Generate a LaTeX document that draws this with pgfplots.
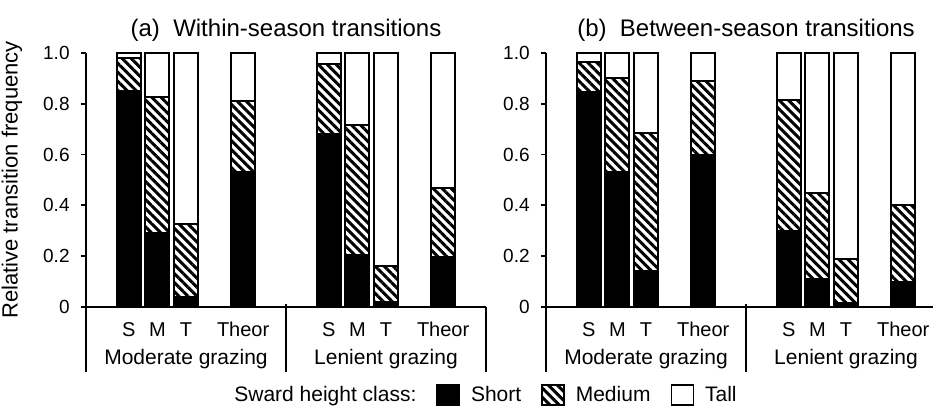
\documentclass[border=0pt]{standalone}
\usepackage{pgfplots}
\pgfplotsset{compat=1.18}
\usepackage{pgfplotstable}
\usepackage{fontspec}
\setmainfont{Liberation Sans}
\usetikzlibrary{patterns.meta}

\tikzset{hatch/.style={pattern={Lines[angle=-45,distance=3.2pt,line width=1.5pt]}, pattern color=black}}

\pgfplotstableread{
x short medium tall
1.5 0.85 0.13 0.02
2.5 0.29 0.535 0.175
3.5 0.04 0.285 0.675
5.5 0.53 0.28 0.19
8.5 0.68 0.275 0.045
9.5 0.205 0.51 0.285
10.5 0.02 0.14 0.84
12.5 0.195 0.275 0.53
}\dataA

\pgfplotstableread{
x short medium tall
1.5 0.845 0.12 0.035
2.5 0.53 0.37 0.10
3.5 0.14 0.545 0.315
5.5 0.60 0.29 0.11
8.5 0.30 0.515 0.185
9.5 0.11 0.34 0.55
10.5 0.015 0.175 0.81
12.5 0.10 0.30 0.60
}\dataB

\newcommand{\fs}{\fontsize{10.5}{12.6}\selectfont}

\pgfplotsset{
  panel/.style={
    scale only axis, height=127pt,
    xmin=0, ymin=0, ymax=1,
    axis x line=bottom, axis y line=left,
    axis line style={-, line width=0.9pt},
    ytick={0,0.2,0.4,0.6,0.8,1}, yticklabels={0,0.2,0.4,0.6,0.8,1.0},
    xtick={1.5,2.5,3.5,5.5,8.5,9.5,10.5,12.5},
    xticklabels={S,M,T,Theor,S,M,T,Theor},
    x tick style={draw=none},
    y tick style={line width=0.9pt, black},
    tick align=outside, major tick length=2.5pt,
    yticklabel style={anchor=east, inner sep=0pt, xshift=-5.5pt, font=\fontsize{9.5}{11}\selectfont},
    xticklabel style={anchor=base, inner sep=0pt, yshift=-12.5pt, font=\fontsize{10}{12}\selectfont},
    ybar stacked, bar width=12pt,
    clip=false,
    font=\fs,
  }
}

\begin{document}
\begin{tikzpicture}
\begin{axis}[panel, width=200pt, xmax=14, at={(0pt,0pt)}, anchor=south west,
  ylabel={Relative transition frequency},
  ylabel style={at={(axis description cs:-0.185,0.5)}, anchor=center, font=\fontsize{11}{13}\selectfont},
  legend columns=-1,
  legend style={draw=none, fill=none, at={(0.985,-0.3465)}, anchor=center, font=\fs,
    nodes={inner xsep=0pt},
    /tikz/every odd column/.append style={column sep=5.5pt},
    /tikz/every even column/.append style={column sep=10pt}},
]
\addplot[fill=black, draw=black, line width=1pt, forget plot] table[x=x,y=short]{\dataA};
\addplot[hatch, draw=black, line width=1pt, forget plot] table[x=x,y=medium]{\dataA};
\addplot[fill=white, draw=black, line width=1pt, forget plot] table[x=x,y=tall]{\dataA};
\addlegendimage{empty legend}
\addlegendentry{Sward height class:\hspace{6pt}}
\addlegendimage{legend image code/.code={\draw[fill=black,line width=0.8pt] (0pt,-5pt) rectangle (11pt,5pt);}}
\addlegendentry{Short}
\addlegendimage{legend image code/.code={\draw[hatch,line width=0.8pt] (0pt,-5pt) rectangle (11pt,5pt);}}
\addlegendentry{Medium}
\addlegendimage{legend image code/.code={\draw[fill=white,line width=0.8pt] (0pt,-5pt) rectangle (11pt,5pt);}}
\addlegendentry{Tall}
\node[anchor=base, font=\fontsize{12}{14}\selectfont] at (axis cs:7,1) [yshift=8pt] {(a)\ \ Within-season transitions};
\node[anchor=base] at (axis cs:3.5,0) [yshift=-29pt] {Moderate grazing};
\node[anchor=base] at (axis cs:10.5,0) [yshift=-29pt] {Lenient grazing};
\draw[line width=0.9pt] (axis cs:0,0) -- ++(0,-32.5pt);
\draw[line width=0.9pt] (axis cs:7,0) ++(0,1.5pt) -- ++(0,-34pt);
\draw[line width=0.9pt] (axis cs:14,0) -- ++(0,-32.5pt);
\end{axis}

\begin{axis}[panel, width=193.6pt, xmax=13.55, at={(230pt,0pt)}, anchor=south west]
\addplot[fill=black, draw=black, line width=1pt] table[x=x,y=short]{\dataB};
\addplot[hatch, draw=black, line width=1pt] table[x=x,y=medium]{\dataB};
\addplot[fill=white, draw=black, line width=1pt] table[x=x,y=tall]{\dataB};
\node[anchor=base, font=\fontsize{12}{14}\selectfont] at (axis cs:7,1) [yshift=8pt] {(b)\ \ Between-season transitions};
\node[anchor=base] at (axis cs:3.5,0) [yshift=-29pt] {Moderate grazing};
\node[anchor=base] at (axis cs:10.5,0) [yshift=-29pt] {Lenient grazing};
\draw[line width=0.9pt] (axis cs:0,0) -- ++(0,-32.5pt);
\draw[line width=0.9pt] (axis cs:7,0) ++(0,1.5pt) -- ++(0,-34pt);
\end{axis}
\pgfresetboundingbox
\useasboundingbox (-43pt,-50pt) rectangle (424pt,153.5pt);
\end{tikzpicture}
\end{document}
